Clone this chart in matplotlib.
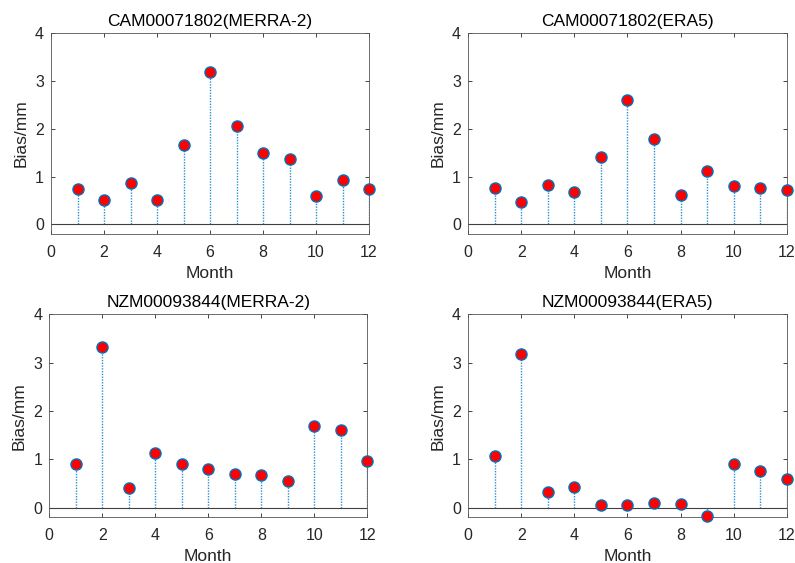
import matplotlib
matplotlib.use("Agg")
import matplotlib.pyplot as plt

plt.rcParams['font.family'] = ['Liberation Sans', 'DejaVu Sans']

months = list(range(1, 13))

cam_merra = [0.75, 0.50, 0.86, 0.50, 1.65, 3.19, 2.06, 1.49, 1.36, 0.59, 0.92, 0.74]
cam_era5 = [0.77, 0.46, 0.82, 0.68, 1.40, 2.60, 1.78, 0.61, 1.11, 0.81, 0.77, 0.71]
nzm_merra = [0.90, 3.32, 0.41, 1.13, 0.90, 0.79, 0.70, 0.68, 0.55, 1.68, 1.61, 0.97]
nzm_era5 = [1.07, 3.17, 0.32, 0.42, 0.055, 0.05, 0.09, 0.08, -0.17, 0.91, 0.76, 0.59]

titles = ['CAM00071802(MERRA-2)', 'CAM00071802(ERA5)',
          'NZM00093844(MERRA-2)', 'NZM00093844(ERA5)']
series = [cam_merra, cam_era5, nzm_merra, nzm_era5]

# axes boxes in figure fractions (left, bottom, width, height)
boxes = [
    (0.0642, 0.5844, 0.400, 0.357),
    (0.5887, 0.5844, 0.401, 0.357),
    (0.0620, 0.0812, 0.400, 0.3605),
    (0.5887, 0.0812, 0.401, 0.3605),
]

txt = '#262626'
edge = '#0072BD'
stem_c = '#2b8fd3'

fig = plt.figure(figsize=(7.95, 5.63), dpi=100)

for box, title, vals in zip(boxes, titles, series):
    ax = fig.add_axes(box)
    for x, v in zip(months, vals):
        ax.plot([x, x], [0, v], color=stem_c, linestyle=(0, (1, 1)), linewidth=1.0)
    ax.axhline(0, color='#404040', linewidth=0.8)
    ax.plot(months, vals, linestyle='none', marker='o', markersize=8,
            markerfacecolor='red', markeredgecolor=edge, markeredgewidth=1.0,
            clip_on=False, zorder=5)
    ax.set_xlim(0, 12)
    ax.set_ylim(-0.2, 4)
    ax.set_xticks(range(0, 13, 2))
    ax.set_yticks(range(0, 5))
    ax.tick_params(direction='in', top=True, right=True, length=3,
                   labelsize=11.5, colors=txt, width=0.6)
    ax.tick_params(axis='x', pad=8)
    ax.tick_params(axis='y', pad=5)
    for s in ax.spines.values():
        s.set_color('#555555')
        s.set_linewidth(0.6)
    ax.set_title(title, fontsize=12.5, color='black', pad=5)
    ax.set_xlabel('Month', fontsize=12.5, color=txt, labelpad=4)
    ax.set_ylabel('Bias/mm', fontsize=12.5, color=txt, labelpad=5)

fig.savefig('out.png', dpi=100)
